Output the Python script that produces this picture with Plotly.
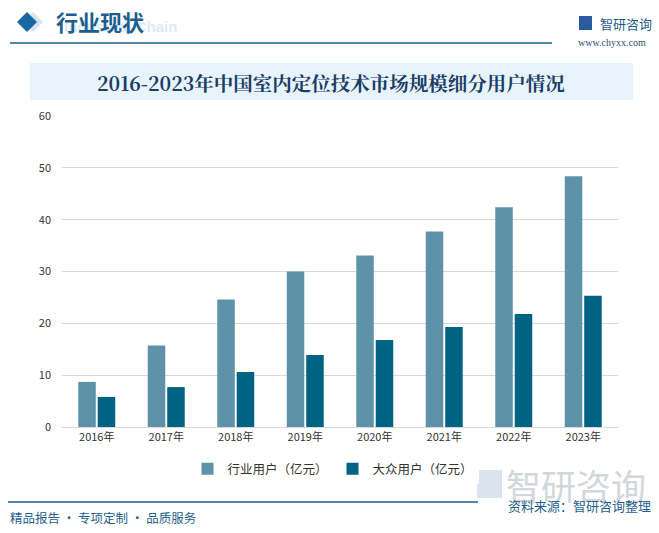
import plotly.graph_objects as go

years = ["2016年", "2017年", "2018年", "2019年", "2020年", "2021年", "2022年", "2023年"]
industry_users = [8.7, 15.7, 24.6, 30.0, 33.1, 37.7, 42.4, 48.4]
public_users = [5.8, 7.7, 10.6, 13.9, 16.8, 19.3, 21.8, 25.3]
series_names = ["行业用户（亿元）", "大众用户（亿元）"]
y_ticks = [0, 10, 20, 30, 40, 50, 60]

FONT = "Noto Sans CJK SC, Noto Sans, sans-serif"
W, H = 659, 533
ML, MR, MT, MB = 62, 41, 116, 106
PW = W - ML - MR
PH = H - MT - MB

fig = go.Figure()
fig.add_trace(go.Bar(x=years, y=industry_users, name=series_names[0],
                     marker=dict(color="#5e92a9", line=dict(width=0))))
fig.add_trace(go.Bar(x=years, y=public_users, name=series_names[1],
                     marker=dict(color="#006384", line=dict(width=0))))

def px(x):
    return (x - ML) / PW

def py(y):
    return (H - MB - y) / PH

shapes = [
    dict(type="rect", xref="paper", yref="paper", x0=px(30), x1=px(633), y0=py(100), y1=py(63),
         fillcolor="#e8f4fc", line=dict(width=0), layer="below"),
    dict(type="line", xref="paper", yref="paper", x0=px(10), x1=px(552), y0=py(43), y1=py(43),
         line=dict(color="#1f5f8b", width=1.5)),
    dict(type="line", xref="paper", yref="paper", x0=px(8), x1=px(478), y0=py(502), y1=py(502),
         line=dict(color="#1f5f8b", width=1.5)),
    dict(type="path", xref="paper", yref="paper",
         path=f"M {px(33)} {py(12)} L {px(43)} {py(22)} L {px(33)} {py(32)} L {px(23)} {py(22)} Z",
         fillcolor="#d5e4ee", line=dict(width=0)),
    dict(type="path", xref="paper", yref="paper",
         path=f"M {px(27)} {py(12)} L {px(37)} {py(22)} L {px(27)} {py(32)} L {px(17)} {py(22)} Z",
         fillcolor="#1669a3", line=dict(width=0)),
    dict(type="rect", xref="paper", yref="paper", x0=px(579), x1=px(592), y0=py(30), y1=py(16),
         fillcolor="#2a5aa0", line=dict(width=0)),
    dict(type="rect", xref="paper", yref="paper", x0=px(477), x1=px(502), y0=py(498), y1=py(470),
         fillcolor="#dbe3ee", line=dict(width=0), layer="below"),
]

annotations = [
    dict(text="<b>Industrial Chain</b>", x=px(62), y=py(27), xref="paper", yref="paper", showarrow=False,
         xanchor="left", yanchor="middle", font=dict(family="Liberation Sans, Arial", size=15, color="#dcebf7")),
    dict(text="<b>行业现状</b>", x=px(54), y=py(21), xref="paper", yref="paper", showarrow=False,
         xanchor="left", yanchor="middle", font=dict(family=FONT, size=22, color="#1c5e8e")),
    dict(text="智研咨询", x=px(598), y=py(23), xref="paper", yref="paper", showarrow=False,
         xanchor="left", yanchor="middle", font=dict(family=FONT, size=13, color="#1d5a8a")),
    dict(text="www.chyxx.com", x=px(576), y=py(43), xref="paper", yref="paper", showarrow=False,
         xanchor="left", yanchor="middle", font=dict(family="Liberation Serif, serif", size=10, color="#1f4f7a")),
    dict(text="<b>2016-2023年中国室内定位技术市场规模细分用户情况</b>", x=px(331), y=py(83), xref="paper", yref="paper",
         showarrow=False, xanchor="center", yanchor="middle",
         font=dict(family="Noto Serif CJK SC, Noto Sans CJK SC, serif", size=19.5, color="#1b3d66")),
    dict(text="智研咨询", x=px(504), y=py(484), xref="paper", yref="paper", showarrow=False,
         xanchor="left", yanchor="middle", font=dict(family=FONT, size=35, color="#d3d6db")),
    dict(text="资料来源：智研咨询整理", x=px(653), y=py(505), xref="paper", yref="paper", showarrow=False,
         xanchor="right", yanchor="middle", font=dict(family=FONT, size=13, color="#1f5f8b")),
    dict(text="精品报告 · 专项定制 · 品质服务", x=px(8), y=py(517), xref="paper", yref="paper", showarrow=False,
         xanchor="left", yanchor="middle", font=dict(family=FONT, size=12.5, color="#1f5f8b")),
]

fig.update_layout(
    width=W, height=H,
    margin=dict(l=ML, r=MR, t=MT, b=MB),
    paper_bgcolor="white", plot_bgcolor="white",
    barmode="group", bargap=0.44, bargroupgap=0.1,
    font=dict(family=FONT, size=11, color="#333333"),
    showlegend=True,
    legend=dict(orientation="h", x=px(333), xanchor="center", y=py(469), yanchor="middle",
                xref="paper", yref="paper", font=dict(size=12.5, color="#333333"),
                itemwidth=30, traceorder="normal"),
    shapes=shapes,
    annotations=annotations,
)
fig.update_xaxes(showgrid=False, showline=True, linecolor="#d9d9d9", linewidth=1,
                 ticks="", tickfont=dict(size=11, color="#333333"))
fig.update_yaxes(range=[0, 60], tickvals=y_ticks, showgrid=True, gridcolor="#d9d9d9", gridwidth=1,
                 zeroline=False, showline=False, ticks="", ticklabelstandoff=10,
                 tickfont=dict(size=11, color="#333333"))

fig.write_html("out.html", config={"displayModeBar": False},
               post_script="document.body.style.margin='0';document.body.style.padding='0';document.body.style.overflow='hidden';")
